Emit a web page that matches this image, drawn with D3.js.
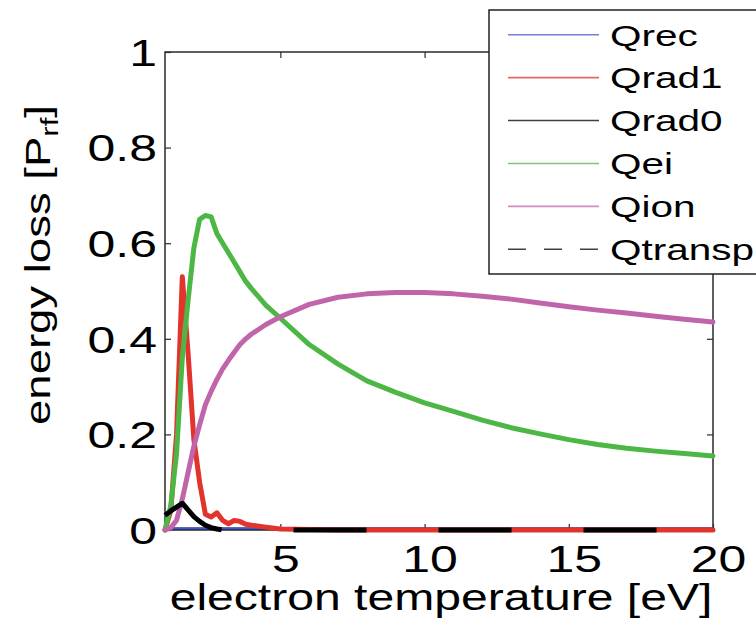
<!DOCTYPE html>
<html>
<head>
<meta charset="utf-8">
<script src="https://cdn.jsdelivr.net/npm/d3@7"></script>
<style>
  html, body { margin: 0; padding: 0; background: #fff; overflow: hidden; }
  text { font-family: "Liberation Sans", Arial, Helvetica, sans-serif; fill: #000; }
</style>
</head>
<body>
<div id="chart"></div>
<script>
// electron temperature grid [eV]
const temperature = [1.0, 1.2, 1.4, 1.6, 1.8, 2.0, 2.2, 2.4, 2.6, 2.8, 3.0, 3.2, 3.4, 3.6, 3.8, 4.0,
                     4.5, 5, 6, 7, 8, 9, 10, 11, 12, 13, 14, 15, 16, 17, 18, 19, 20];

// energy loss channels, fraction of P_rf
const qrec    = [0, 0, 0, 0, 0, 0, 0, 0, 0, 0, 0, 0, 0, 0, 0, 0,
                 0, 0, 0, 0, 0, 0, 0, 0, 0, 0, 0, 0, 0, 0, 0, 0, 0];
const qrad1   = [0, 0.04, 0.2, 0.53, 0.37, 0.19, 0.1, 0.033, 0.027, 0.036, 0.02, 0.013, 0.02, 0.018, 0.012, 0.01,
                 0.006, 0.002, 0.001, 0, 0, 0, 0, 0, 0, 0, 0, 0, 0, 0, 0, 0, 0];
const qrad0   = [0, 0, 0, 0, 0, 0, 0, 0, 0, 0, 0, 0, 0, 0, 0, 0,
                 0, 0, 0, 0, 0, 0, 0, 0, 0, 0, 0, 0, 0, 0, 0, 0, 0];
const qei     = [0, 0.05, 0.16, 0.36, 0.48, 0.59, 0.65, 0.658, 0.655, 0.62, 0.6, 0.58, 0.56, 0.54, 0.52, 0.505,
                 0.47, 0.443, 0.388, 0.347, 0.312, 0.288, 0.266, 0.248, 0.23, 0.214, 0.201, 0.189, 0.179, 0.171, 0.165, 0.16, 0.155];
const qion    = [0, 0.005, 0.02, 0.065, 0.12, 0.175, 0.22, 0.262, 0.29, 0.315, 0.337, 0.355, 0.372, 0.388, 0.4, 0.41,
                 0.43, 0.446, 0.472, 0.487, 0.494, 0.497, 0.497, 0.494, 0.489, 0.483, 0.475, 0.467, 0.46, 0.454, 0.447, 0.441, 0.435];
const qtransp = [0.031, 0.04, 0.048, 0.056, 0.042, 0.028, 0.018, 0.01, 0.005, 0.002, 0, 0, 0, 0, 0, 0,
                 0, 0, 0, 0, 0, 0, 0, 0, 0, 0, 0, 0, 0, 0, 0, 0, 0];

const legendNames = ["Qrec", "Qrad1", "Qrad0", "Qei", "Qion", "Qtransp"];
const xTicks = [5, 10, 15, 20];
const xTickLabels = ["5", "10", "15", "20"];
const yTicks = [0, 0.2, 0.4, 0.6, 0.8, 1];
const yTickLabels = ["0", "0.2", "0.4", "0.6", "0.8", "1"];
const xTitle = "electron temperature [eV]";

// line styles per channel
const styles = {
  Qrec:    {color: "#3f56d2", dash: null},
  Qrad1:   {color: "#e2342c", dash: null},
  Qrad0:   {color: "#000000", dash: null},
  Qei:     {color: "#4db745", dash: null},
  Qion:    {color: "#c165ab", dash: null},
  Qtransp: {color: "#000000", dash: "73 72", dashOffset: 3, legendDash: "18 18"}
};

// horizontal widening of the (wide) label face
const TICK_STRETCH = 1.35, TITLE_STRETCH = 1.3, YLABEL_STRETCH = 1.3, LEGEND_STRETCH = 1.35;
const LINE_W = 5;

function drawEnergyLoss() {
  const W = 756, H = 621;
  const margin = {top: 52, right: 43, bottom: 91, left: 165};
  const width = W - margin.left - margin.right,
        height = H - margin.top - margin.bottom;

  const svg = d3.select("#chart").append("svg")
    .attr("width", W).attr("height", H);

  const g = svg.append("g").attr("transform", `translate(${margin.left},${margin.top})`);

  const x = d3.scaleLinear().domain([1, 20]).range([0, width]);
  const y = d3.scaleLinear().domain([0, 1]).range([height, 0]);

  const series = {
    Qrec: qrec, Qrad1: qrad1, Qrad0: qrad0, Qei: qei, Qion: qion, Qtransp: qtransp
  };
  const pts = name => temperature.map((t, i) => ({t, v: series[name][i]}));
  const line = d3.line().x(d => x(d.t)).y(d => y(d.v));

  svg.append("clipPath").attr("id", "plotArea")
    .append("rect").attr("x", 0).attr("y", 0).attr("width", width).attr("height", height);

  const drawSeries = (parent, name) => {
    const s = styles[name];
    parent.append("path")
      .datum(pts(name))
      .attr("fill", "none")
      .attr("stroke", s.color)
      .attr("stroke-width", LINE_W)
      .attr("stroke-linejoin", "round")
      .attr("stroke-linecap", s.dash ? "butt" : "round")
      .attr("stroke-dasharray", s.dash)
      .attr("stroke-dashoffset", s.dashOffset || null)
      .attr("d", line);
  };

  // the flat channels sit underneath the frame
  const under = g.append("g").attr("clip-path", "url(#plotArea)");
  drawSeries(under, "Qrad0");
  drawSeries(under, "Qrec");

  // frame and inward ticks on all four sides
  const axisColor = "#2a2a2a";
  g.append("rect")
    .attr("width", width).attr("height", height)
    .attr("fill", "none").attr("stroke", axisColor).attr("stroke-width", 1.5);

  const styleAxis = sel => {
    sel.select(".domain").remove();
    sel.selectAll(".tick line").attr("stroke", axisColor).attr("stroke-width", 1.2);
  };

  const xAxis = g.append("g")
    .attr("transform", `translate(0,${height})`)
    .call(d3.axisBottom(x).tickValues(xTicks).tickFormat((d, i) => xTickLabels[i])
      .tickSizeInner(-6).tickSizeOuter(0))
    .call(styleAxis);
  xAxis.selectAll(".tick text")
    .attr("y", 0).attr("dy", 0)
    .attr("transform", `translate(5,42) scale(${TICK_STRETCH},1)`)
    .attr("font-size", 37).attr("font-family", null).attr("fill", "#000");

  g.append("g")
    .call(d3.axisTop(x).tickValues(xTicks).tickFormat("").tickSizeInner(-6).tickSizeOuter(0))
    .call(styleAxis);

  const yAxis = g.append("g")
    .call(d3.axisLeft(y).tickValues(yTicks).tickFormat((d, i) => yTickLabels[i])
      .tickSizeInner(-6).tickSizeOuter(0))
    .call(styleAxis);
  yAxis.selectAll(".tick text")
    .attr("x", 0).attr("dy", "0.36em")
    .attr("transform", `translate(-8,0) scale(${TICK_STRETCH},1)`)
    .attr("font-size", 37).attr("font-family", null).attr("fill", "#000");

  g.append("g")
    .attr("transform", `translate(${width},0)`)
    .call(d3.axisRight(y).tickValues(yTicks).tickFormat("").tickSizeInner(-6).tickSizeOuter(0))
    .call(styleAxis);

  // remaining channels on top of the frame
  drawSeries(g, "Qrad1");
  drawSeries(g, "Qei");
  drawSeries(g, "Qion");
  drawSeries(g, "Qtransp");

  // axis titles
  svg.append("text")
    .attr("transform", `translate(${margin.left + width / 2 + 2},610) scale(${TITLE_STRETCH},1)`)
    .attr("text-anchor", "middle")
    .attr("font-size", 37)
    .text(xTitle);

  const yl = svg.append("text")
    .attr("transform", `translate(50,265) rotate(-90) scale(${YLABEL_STRETCH},1)`)
    .attr("text-anchor", "middle")
    .attr("font-size", 35);
  yl.append("tspan").text("energy loss [P");
  yl.append("tspan").attr("font-size", 24).attr("dy", 8).text("rf");
  yl.append("tspan").attr("dy", -8).text("]");

  // legend box, running past the right edge
  const lg = svg.append("g").attr("transform", "translate(489,10)");
  lg.append("rect")
    .attr("width", 320).attr("height", 264)
    .attr("fill", "#fff").attr("stroke", "#222").attr("stroke-width", 1.5);

  const rowY = d3.scalePoint().domain(legendNames).range([24.7, 239.3]);
  legendNames.forEach(name => {
    const s = styles[name];
    lg.append("line")
      .attr("x1", 19).attr("x2", 110)
      .attr("y1", rowY(name)).attr("y2", rowY(name))
      .attr("stroke", s.color).attr("stroke-width", 1.6)
      .attr("stroke-opacity", 0.75)
      .attr("stroke-dasharray", s.legendDash || null);
    lg.append("text")
      .attr("transform", `translate(121,${rowY(name)}) scale(${LEGEND_STRETCH},1)`)
      .attr("dy", "0.36em")
      .attr("font-size", 30)
      .text(name);
  });
}

drawEnergyLoss();
</script>
</body>
</html>
